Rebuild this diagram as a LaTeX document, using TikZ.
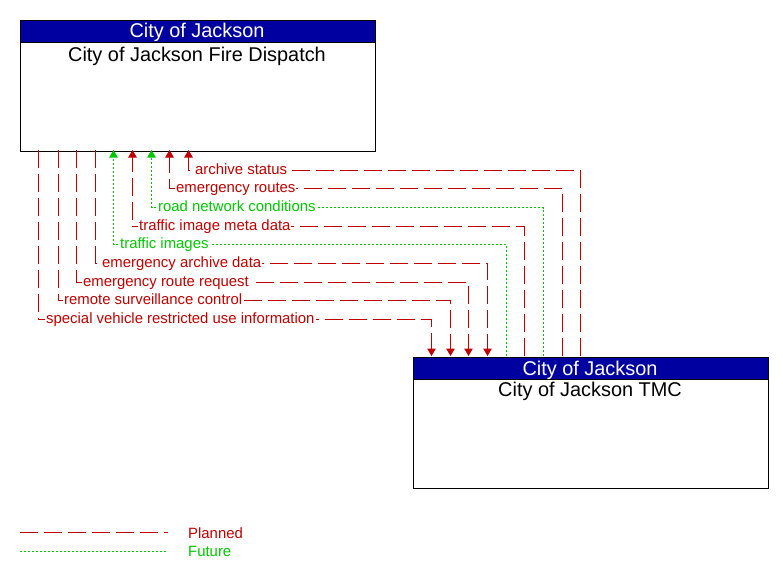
\documentclass[tikz,border=0pt]{standalone}
\usepackage{fontspec}
\setmainfont{Liberation Sans}
\usetikzlibrary{arrows.meta}
\definecolor{plan}{RGB}{192,0,0}
\definecolor{fut}{RGB}{0,200,0}
\definecolor{hdr}{RGB}{0,0,160}
\begin{document}
\begin{tikzpicture}[x=1pt,y=-1pt,
  planned/.style={draw=plan, line width=1pt, dash pattern=on 18pt off 6pt},
  future/.style={draw=fut, line width=1pt, dash pattern=on 2pt off 2pt},
  tip/.style={-{Triangle[length=7.5pt,width=8.5pt]}},
  lab/.style={anchor=base west, inner sep=1pt, fill=white, font=\fontsize{14.9}{17}\selectfont},
  body/.style={draw, line width=1pt, minimum width=355pt, minimum height=131pt, anchor=north west, inner sep=0pt},
  head/.style={draw, line width=1pt, fill=hdr, text=white, minimum width=355pt, minimum height=22pt, anchor=north west, inner sep=0pt},
  ttl/.style={anchor=base, inner sep=0pt, font=\fontsize{19.9}{22}\selectfont},
  leg/.style={anchor=base west, inner sep=0pt, font=\fontsize{14.9}{17}\selectfont}]
\useasboundingbox (0,0) rectangle (783,579);
% boxes
\node[body] (fire) at (19.5,19.5) {};
\node[head] (firehdr) at (fire.north west) {};
\node[ttl, text=white] (firehdrt) at (197,37.5) {City of Jackson};
\node[ttl] (firettl) at (197,61) {City of Jackson Fire Dispatch};
\node[body] (tmc) at (412.5,356.5) {};
\node[head] (tmchdr) at (tmc.north west) {};
\node[ttl, text=white] (tmchdrt) at (590,375) {City of Jackson};
\node[ttl] (tmcttl) at (590,396.5) {City of Jackson TMC};
% connector end points
\coordinate (fA) at (188.5,150); \coordinate (tA) at (580.5,356);
\coordinate (fB) at (169.5,150); \coordinate (tB) at (562.5,356);
\coordinate (fC) at (151.5,150); \coordinate (tC) at (543.5,356);
\coordinate (fD) at (132.5,150); \coordinate (tD) at (524.5,356);
\coordinate (fE) at (113.5,150); \coordinate (tE) at (506.5,356);
\coordinate (fF) at (95.5,150);  \coordinate (tF) at (487.5,356);
\coordinate (fG) at (76.5,150);  \coordinate (tG) at (468.5,356);
\coordinate (fH) at (58.5,150);  \coordinate (tH) at (450.5,356);
\coordinate (fI) at (38.5,150);  \coordinate (tI) at (431.5,356);
% TMC -> Fire
\draw[planned,tip] (tA) -- (580.5,170.5) -- (188.5,170.5) -- (fA);
\draw[planned,tip] (tB) -- (562.5,188.5) -- (169.5,188.5) -- (fB);
\draw[future,tip]  (tC) -- (543.5,207.5) -- (151.5,207.5) -- (fC);
\draw[planned,tip] (tD) -- (524.5,226.5) -- (132.5,226.5) -- (fD);
\draw[future,tip]  (tE) -- (506.5,244.5) -- (113.5,244.5) -- (fE);
% Fire -> TMC
\draw[planned,tip] (fF) -- (95.5,263.5) -- (487.5,263.5) -- (tF);
\draw[planned,tip] (fG) -- (76.5,282.5) -- (468.5,282.5) -- (tG);
\draw[planned,tip] (fH) -- (58.5,300.5) -- (450.5,300.5) -- (tH);
\draw[planned,tip] (fI) -- (38.5,319.5) -- (431.5,319.5) -- (tI);
% labels
\node[lab, text=plan] (lA) at (194,174.5) {archive status};
\node[lab, text=plan] (lB) at (175,192.5) {emergency routes};
\node[lab, text=fut]  (lC) at (157,211.5) {road network conditions};
\node[lab, text=plan] (lD) at (138,230.5) {traffic image meta data};
\node[lab, text=fut]  (lE) at (119,248.5) {traffic images};
\node[lab, text=plan] (lF) at (101,267.5) {emergency archive data};
\node[lab, text=plan] (lG) at (82,286.5) {emergency route request};
\node[lab, text=plan] (lH) at (63,304.5) {remote surveillance control};
\node[lab, text=plan] (lI) at (45,323.5) {special vehicle restricted use information};
% legend
\coordinate (lp1) at (20,532.5); \coordinate (lp2) at (168,532.5);
\coordinate (lf1) at (20,551.5); \coordinate (lf2) at (166,551.5);
\draw[planned] (lp1) -- (lp2);
\draw[future] (lf1) -- (lf2);
\node[leg, text=plan] (lpt) at (188,538) {Planned};
\node[leg, text=fut] (lft) at (188,556) {Future};
\end{tikzpicture}
\end{document}
